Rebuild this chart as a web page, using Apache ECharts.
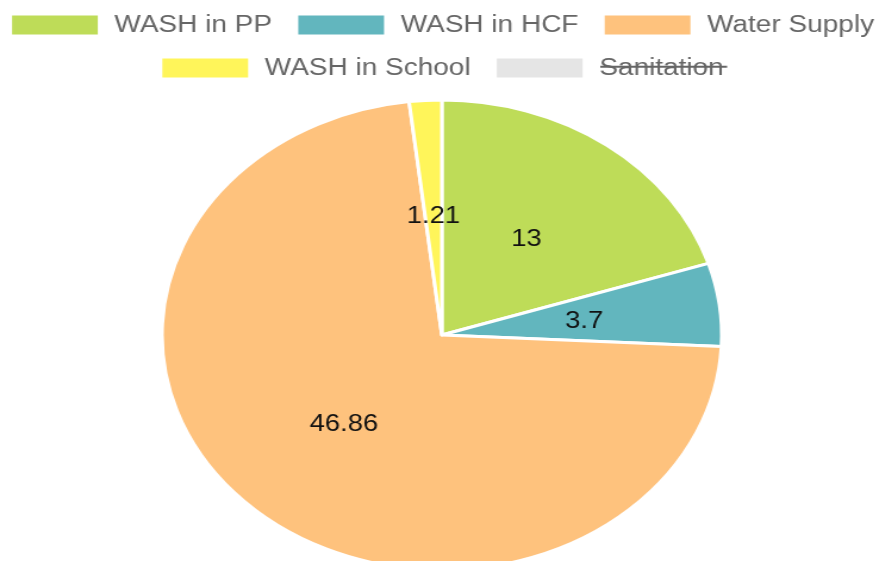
<!DOCTYPE html>
<html>
<head>
<meta charset="utf-8">
<script src="https://cdn.jsdelivr.net/npm/echarts@6/dist/echarts.min.js"></script>
<style>
html,body{margin:0;padding:0;background:#fff;overflow:hidden;}
#wrap{width:880px;height:561px;overflow:hidden;}
#chart{width:744px;height:561px;transform:scaleX(1.191);transform-origin:0 0;}
</style>
</head>
<body>
<div id="wrap"><div id="chart"></div></div>
<script>
const categories = ['WASH in PP', 'WASH in HCF', 'Water Supply', 'WASH in School', 'Sanitation'];
// Sanitation is hidden in the reference (legend toggled off); its value is not visible.
const values = [13, 3.7, 46.86, 1.21, 20];
const colors = ['#bedc58', '#62b6be', '#fec27d', '#fff55a', '#e5e5e5'];
const hidden = ['Sanitation'];

const chart = echarts.init(document.getElementById('chart'));
const selected = {};
categories.forEach(c => { selected[c] = hidden.indexOf(c) < 0; });

const FONT = 'Liberation Sans, Arial, sans-serif';
const legendText = {
  color: '#666',
  fontSize: 23.5,
  fontFamily: FONT,
  lineHeight: 24,
  padding: [1, 0, 0, 9],
  rich: { s: { color: '#666', fontSize: 23.5, fontFamily: FONT, lineHeight: 24 } }
};
const legendItem = { borderWidth: 0 };

const option = {
  animation: false,
  color: colors,
  legend: [
    {
      data: categories.slice(0, 3),
      selected: selected,
      left: 'center', top: 12.5, padding: 0,
      itemWidth: 72, itemHeight: 19, itemGap: 22,
      icon: 'rect', inactiveColor: '#e5e5e5', inactiveBorderWidth: 0,
      itemStyle: legendItem,
      textStyle: legendText
    },
    {
      data: categories.slice(3),
      selected: selected,
      left: 'center', top: 55.5, padding: 0,
      itemWidth: 72, itemHeight: 19, itemGap: 22,
      icon: 'rect', inactiveColor: '#e5e5e5', inactiveBorderWidth: 0,
      itemStyle: legendItem,
      formatter: name => '{s|' + name + '}',
      textStyle: legendText
    }
  ],
  series: [{
    type: 'pie',
    center: [371, 335],
    radius: [0, 235],
    startAngle: 90,
    clockwise: true,
    avoidLabelOverlap: false,
    itemStyle: { borderColor: '#fff', borderWidth: 3 },
    label: {
      show: true, position: 'inside',
      color: '#111', fontSize: 23,
      fontFamily: FONT,
      formatter: p => String(p.value)
    },
    labelLayout: { dy: 2 },
    labelLine: { show: false },
    emphasis: { disabled: true },
    data: categories.map((c, i) => ({ name: c, value: values[i] }))
  }],
  graphic: [{
    type: 'line',
    shape: { x1: 504, y1: 66.7, x2: 610.5, y2: 66.7 },
    style: { stroke: '#666', lineWidth: 2 },
    silent: true
  }]
};
chart.setOption(option);
</script>
</body>
</html>
